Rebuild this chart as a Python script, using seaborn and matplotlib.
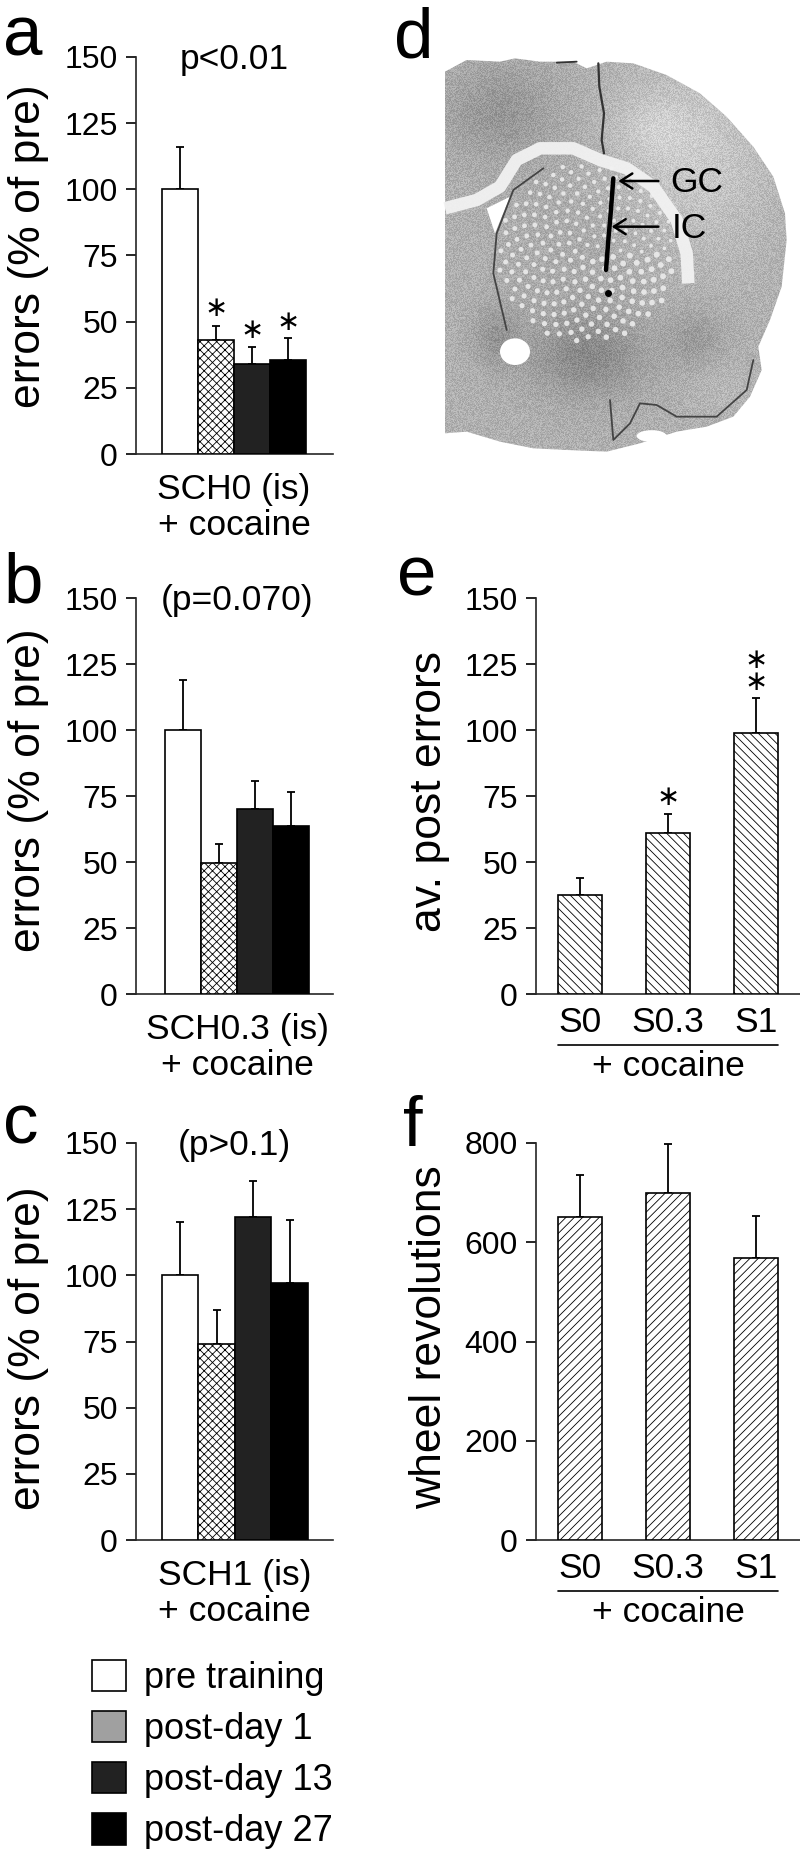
import numpy as np
import pandas as pd
import matplotlib
matplotlib.use("Agg")
import matplotlib.pyplot as plt
from matplotlib.patches import Patch, Polygon, Ellipse
import seaborn as sns

sns.set_theme(style="ticks")
plt.rcParams["font.family"] = ["Liberation Sans", "DejaVu Sans"]
plt.rcParams["hatch.linewidth"] = 0.6
plt.rcParams["axes.linewidth"] = 1.2

# ---------- data ----------
conditions = ["pre training", "post-day 1", "post-day 13", "post-day 27"]
a_values = [100, 43, 34, 35.5]
a_errors = [16, 5.5, 6.5, 8.5]
a_stars = [None, 55, 47, 50]
b_values = [100, 49.5, 70, 63.5]
b_errors = [19, 7.5, 10.5, 13]
c_values = [100, 74, 122, 97]
c_errors = [20, 13, 13.5, 24]
doses = ["S0", "S0.3", "S1"]
e_values = [37.5, 61, 99]
e_errors = [6.5, 7, 13]
f_values = [650, 700, 568]
f_errors = [85, 98, 84]
error_ticks = [0, 25, 50, 75, 100, 125, 150]
wheel_ticks = [0, 200, 400, 600, 800]

W, H = 800, 1857
fig = plt.figure(figsize=(W / 100, H / 100), dpi=100, facecolor="white")
TICK = 23


def make_axes(left, right, top, bottom):
    return fig.add_axes([left / W, 1 - bottom / H, (right - left) / W, (bottom - top) / H])


def px(x, y):
    return x / W, 1 - y / H


def style(ax, ticks, ymax, label, lab_x, lab_y):
    sns.despine(ax=ax)
    ax.set_ylim(0, ymax)
    ax.set_yticks(ticks)
    ax.tick_params(axis="y", labelsize=TICK, length=7, width=1.2, pad=6, color="black", labelcolor="black")
    ax.set_xlabel("")
    ax.set_ylabel(label, fontsize=32, color="black")
    ax.yaxis.set_label_coords(*px(lab_x, lab_y), transform=fig.transFigure)
    ax.patch.set_alpha(0)


def bars(ax, cats, values, errors, colors, hatches, width, c0, unit, left, right):
    df = pd.DataFrame({"cat": cats, "val": values})
    sns.barplot(data=df, x="cat", y="val", hue="cat", palette=colors, dodge=False, legend=False,
                width=width, saturation=1, errorbar=None, edgecolor="black", linewidth=1.2,
                order=cats, hue_order=cats, ax=ax, zorder=3)
    for patch, h in zip(ax.patches, hatches):
        if h:
            patch.set_hatch(h)
    xs = np.arange(len(cats))
    ax.errorbar(xs, values, yerr=[np.zeros(len(cats)), errors], fmt="none", ecolor="black",
                elinewidth=1.3, capsize=2.8, capthick=1.3, zorder=1)
    ax.set_xlim((left - c0) / unit, (right - c0) / unit)


def group_panel(cfg):
    ax = make_axes(136, 333, cfg["top"], cfg["bottom"])
    bars(ax, conditions, cfg["values"], cfg["errors"], ["white", "white", "#222222", "black"],
         [None, "xxxx", None, None], 1.0, cfg["c0"], cfg["unit"], 136, 333)
    style(ax, error_ticks, 150, "errors (% of pre)", 49, cfg["lab_y"])
    ax.set_xticks([1.5])
    ax.set_xticklabels([cfg["xlabel"]], fontsize=25.5, linespacing=1.08, color="black")
    ax.tick_params(axis="x", length=0, pad=14)
    ax.text(1.5, 149, cfg["title"], fontsize=25.5, ha="center", va="center", color="black")
    return ax


def star(ax, x, y, text="\u2217"):
    ax.text(x, y, text, fontsize=20, family="DejaVu Sans", ha="center", va="center", color="black",
            linespacing=0.72)


ax_a = group_panel(dict(top=57, bottom=454, values=a_values, errors=a_errors, c0=180, unit=36,
                        lab_y=246, xlabel="SCH0 (is)\n+ cocaine", title="p<0.01"))
for i, s in enumerate(a_stars):
    if s:
        star(ax_a, i, s)
group_panel(dict(top=598, bottom=994, values=b_values, errors=b_errors, c0=183, unit=36,
                 lab_y=790, xlabel="SCH0.3 (is)\n+ cocaine", title="(p=0.070)"))
group_panel(dict(top=1143, bottom=1540, values=c_values, errors=c_errors, c0=180, unit=36.5,
                 lab_y=1348, xlabel="SCH1 (is)\n+ cocaine", title="(p>0.1)"))


def dose_panel(top, bottom, values, errors, hatch, ticks, ymax, label, lab_y):
    ax = make_axes(536, 800, top, bottom)
    bars(ax, doses, values, errors, ["white"] * 3, [hatch] * 3, 0.5, 580, 88, 536, 800)
    style(ax, ticks, ymax, label, 450, lab_y)
    ax.set_xticks(range(3))
    ax.set_xticklabels(doses, fontsize=25.5, color="black")
    ax.tick_params(axis="x", length=0, pad=9)
    fig.add_artist(plt.Line2D([558 / W, 778 / W], [1 - (bottom + 51) / H] * 2, color="black", lw=1.2))
    fig.text(*px(668, bottom + 73), "+ cocaine", fontsize=25.5, ha="center", va="center", color="black")
    return ax


ax_e = dose_panel(598, 994, e_values, e_errors, "\\\\\\\\", error_ticks, 150, "av. post errors", 791)
star(ax_e, 1, 74.5)
star(ax_e, 2, 122.5, "\u2217\n\u2217")
dose_panel(1143, 1540, f_values, f_errors, "////", wheel_ticks, 800, "wheel revolutions", 1337)

# ---------- panel d: coronal section sketched as a smooth grey field plus shapes ----------
axd = make_axes(400, 800, 0, 470)
axd.axis("off")
gx, gy = np.meshgrid(np.arange(0, 1200, 3.0), np.arange(0, 1410, 3.0))
blobs = [(300, 330, 170, 150, -0.10), (880, 480, 230, 280, 0.10), (560, 1070, 170, 120, -0.14),
         (290, 1010, 70, 90, -0.10), (890, 1020, 90, 90, -0.08), (760, 380, 120, 100, 0.06),
         (560, 800, 260, 300, -0.03), (950, 1150, 100, 90, 0.03)]
field = np.full(gx.shape, 0.69)
for bx, by, sx_, sy_, amp in blobs:
    field += amp * np.exp(-((gx - bx) / sx_) ** 2 - ((gy - by) / sy_) ** 2)
hash_noise = np.modf(np.abs(np.sin(gx * 12.9898 + gy * 78.233) * 43758.5453))[0]
field = np.clip(field + 0.14 * (hash_noise - 0.5), 0, 1)
img = axd.imshow(field, cmap="gray", vmin=0, vmax=1, extent=(0, 1200, 1410, 0), interpolation="bilinear", zorder=0)
outline = [(135, 215), (200, 180), (300, 185), (345, 175), (420, 185), (520, 185), (560, 205), (620, 185),
           (700, 190), (800, 225), (900, 280), (980, 350), (1060, 440), (1120, 530), (1155, 640), (1160, 720),
           (1145, 860), (1110, 960), (1075, 1040), (1085, 1110), (1050, 1190), (1000, 1250), (920, 1280),
           (830, 1295), (720, 1330), (620, 1355), (500, 1350), (400, 1345), (300, 1325), (200, 1295), (135, 1300)]
clip = Polygon(outline, closed=True, transform=axd.transData)
img.set_clip_path(clip)
axd.set_xlim(0, 1200)
axd.set_ylim(1410, 0)
# callosum
cc_x = [135, 230, 300, 350, 420, 520, 600, 680, 760, 830, 860, 865]
cc_y = [625, 600, 560, 480, 445, 445, 480, 505, 560, 660, 760, 850]
axd.plot(cc_x, cc_y, color="#f2f2f2", lw=9, solid_capstyle="butt", solid_joinstyle="round", alpha=0.95)
axd.add_patch(Polygon([(260, 625), (330, 590), (285, 700)], closed=True, fc="white", ec="none"))
# striatal bundles: deterministic golden-angle layout
n = np.arange(1, 230)
r = np.sqrt(n / n.max())
th = n * 2.39996
sx = 560 + 265 * r * np.cos(th)
sy = 760 + 270 * r * np.sin(th)
axd.scatter(sx, sy, s=7 + 11 * np.modf(n * 0.618)[0], c="#ececec", linewidths=0, alpha=0.9)
# dark tracks and edges
axd.plot([430, 340, 290, 280, 320], [505, 570, 700, 820, 990], color="#444444", lw=1.3)
axd.plot([640, 632, 625, 618], [535, 640, 720, 810], color="black", lw=3.2)
axd.plot([625], [880], "o", color="black", ms=4)
axd.plot([595, 598, 612, 605, 612], [190, 260, 340, 420, 460], color="#333333", lw=1.6)
axd.plot([630, 640, 690, 720, 770, 830, 950, 1040, 1060], [1200, 1320, 1270, 1210, 1215, 1250, 1250, 1170, 1080],
         color="#444444", lw=1.3)
axd.plot([470, 530], [188, 185], color="#333333", lw=1.3)
axd.add_patch(Ellipse((345, 1055), 90, 80, fc="white", ec="none"))
axd.add_patch(Ellipse((755, 1308), 90, 35, fc="white", ec="none"))
for y, x0, x1, txt, tx in [(543, 775, 655, "GC", 810), (680, 775, 635, "IC", 815)]:
    axd.annotate("", xy=(x1, y), xytext=(x0, y),
                 arrowprops=dict(arrowstyle="->,head_width=0.45,head_length=0.7", color="black", lw=1.8,
                                 shrinkA=0, shrinkB=0))
    axd.text(tx, y + 4, txt, fontsize=25.5, ha="left", va="center", color="black")

# ---------- panel letters ----------
for letter, x, y in [("a", 3, 55), ("b", 3, 602), ("c", 3, 1143), ("d", 394, 57), ("e", 397, 595), ("f", 403, 1146)]:
    fig.text(*px(x, y), letter, fontsize=51, ha="left", va="baseline", color="black")

# ---------- legend ----------
handles = [Patch(fc="white", ec="black", lw=1.2), Patch(fc="#a0a0a0", ec="black", lw=1.2),
           Patch(fc="#222222", ec="black", lw=1.2), Patch(fc="black", ec="black", lw=1.2)]
fig.legend(handles, conditions, loc="upper left", bbox_to_anchor=px(92, 1660), borderaxespad=0, borderpad=0,
           frameon=False, fontsize=26, handlelength=0.95, handleheight=0.95, handletextpad=0.5, labelspacing=0.42,
           labelcolor="black")

fig.savefig("out.png", dpi=100, facecolor="white")
